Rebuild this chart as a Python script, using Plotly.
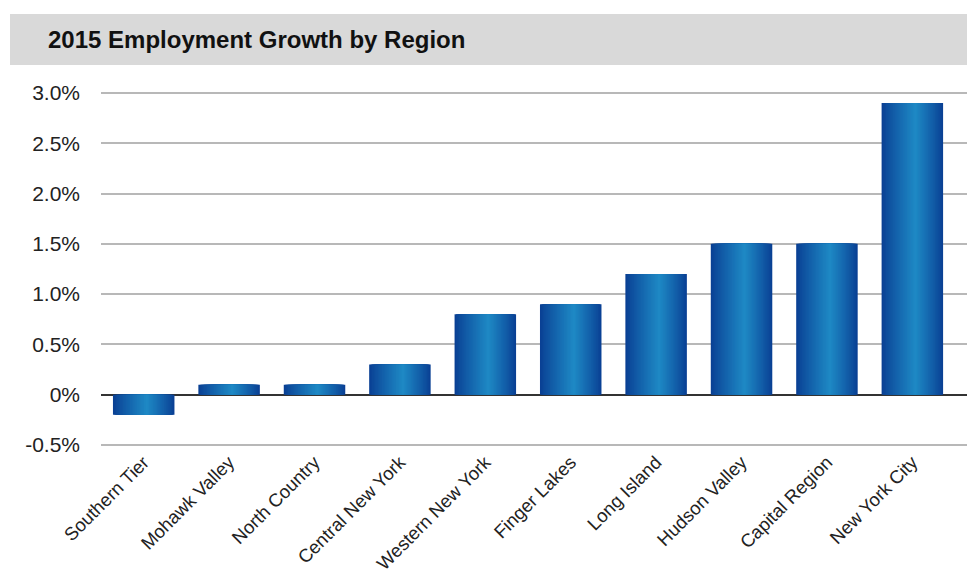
import plotly.graph_objects as go

# ---- data ----
regions = ["Southern Tier", "Mohawk Valley", "North Country", "Central New York",
           "Western New York", "Finger Lakes", "Long Island", "Hudson Valley",
           "Capital Region", "New York City"]
growth = [-0.2, 0.1, 0.1, 0.3, 0.8, 0.9, 1.2, 1.5, 1.5, 2.9]
tick_vals = [-0.5, 0, 0.5, 1.0, 1.5, 2.0, 2.5, 3.0]
tick_text = ["-0.5%", "0%", "0.5%", "1.0%", "1.5%", "2.0%", "2.5%", "3.0%"]
title_text = "2015 Employment Growth by Region"

# ---- style ----
W, H = 967, 572
ML, MR, MT, MB = 101, 0, 91, 125
BAR_W = 0.72
N = 24
EDGE = (10, 64, 148)
CENTER = (30, 136, 196)
PEAK = 0.55

def mix(a, b, f):
    return "rgb(%d,%d,%d)" % tuple(round(a[i] + (b[i] - a[i]) * f) for i in range(3))

fig = go.Figure()
xs = list(range(len(regions)))
for k in range(N):
    lo = PEAK * k / N
    hi = 1 - (1 - PEAK) * k / N
    f = (k / (N - 1)) ** 0.9
    fig.add_trace(go.Bar(
        x=xs, y=growth,
        width=[BAR_W * (hi - lo)] * len(xs),
        offset=[-BAR_W / 2 + BAR_W * lo] * len(xs),
        marker=dict(color=mix(EDGE, CENTER, f), line=dict(width=0)),
        hoverinfo="skip", showlegend=False,
    ))

pw = W - ML - MR
ph = H - MT - MB
def px_x(x):
    return (x - ML) / pw
def px_y(y):
    return (H - MB - y) / ph

fig.add_shape(type="rect", xref="paper", yref="paper",
              x0=px_x(10), x1=px_x(967), y0=px_y(65), y1=px_y(14),
              fillcolor="#d9d9d9", line=dict(width=0), layer="below")
fig.add_annotation(xref="paper", yref="paper", x=px_x(46), y=px_y(40),
                   xanchor="left", yanchor="middle", showarrow=False,
                   text="<b>%s</b>" % title_text,
                   font=dict(family="Liberation Sans, Arial", size=24, color="#111111"))

fig.update_layout(
    width=W, height=H,
    margin=dict(l=ML, r=MR, t=MT, b=MB, autoexpand=False),
    barmode="overlay",
    plot_bgcolor="white", paper_bgcolor="white",
    font=dict(family="Liberation Sans, Arial", size=19, color="#222222"),
    showlegend=False,
)
fig.update_xaxes(
    tickmode="array", tickvals=xs, ticktext=regions, tickangle=-45,
    range=[-0.5, 9.64], showgrid=False, zeroline=False, showline=False,
    automargin=False, ticklabelstandoff=0,
    tickfont=dict(size=18.5, color="#222222"),
)
fig.update_yaxes(
    tickmode="array", tickvals=tick_vals, ticktext=tick_text,
    range=[-0.52, 3.02], showgrid=True, gridcolor="#b8b8b8", gridwidth=2,
    zeroline=True, zerolinecolor="#333333", zerolinewidth=2,
    showline=False, ticklabelstandoff=20, automargin=False,
    tickfont=dict(size=21, color="#222222"),
)

fig.write_html("out.html")
